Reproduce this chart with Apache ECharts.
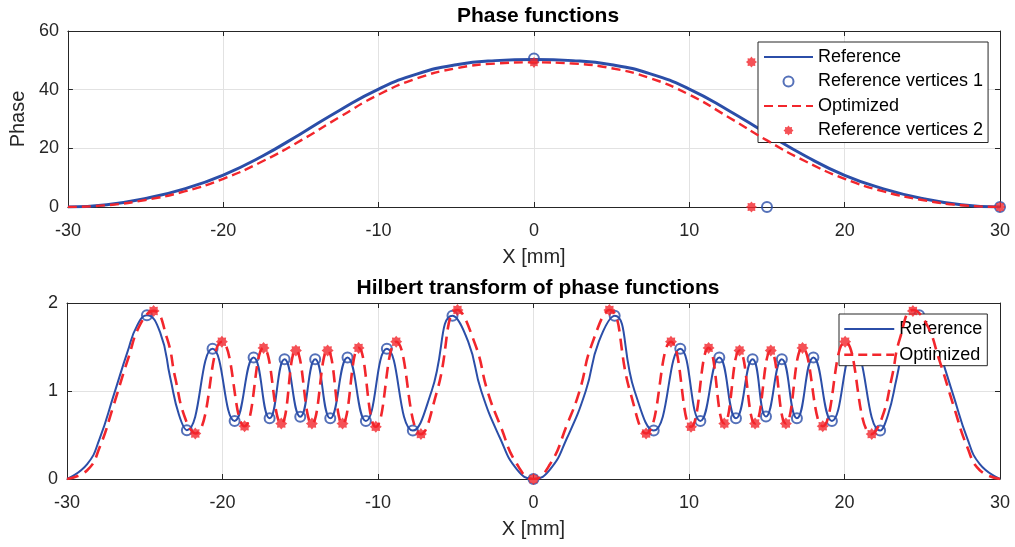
<!DOCTYPE html>
<html><head><meta charset="utf-8">
<script src="https://cdn.jsdelivr.net/npm/echarts@6/dist/echarts.min.js"></script>
<style>html,body{margin:0;padding:0;background:#fff}#c{width:1015px;height:547px}</style>
</head><body><div id="c"></div>
<script>
// ---------- data: top plot (Phase functions) ----------
const phaseX    = [-30, -27.5, -25, -22.5, -20, -17.5, -15, -12.5, -10, -7.5, -5, -2.5, 0, 2.5, 5, 7.5, 10, 12.5, 15, 17.5, 20, 22.5, 25, 27.5, 30];
const phaseRef  = [0, 0.8, 2.9, 6.2, 10.9, 17.3, 25.0, 33.0, 40.2, 45.4, 48.5, 49.9, 50.3, 49.9, 48.5, 45.4, 40.2, 33.0, 25.0, 17.3, 10.8, 6.2, 2.9, 0.8, 0];
const phaseOpt  = [0, 0.6, 2.4, 5.3, 9.6, 15.5, 22.7, 30.7, 38.3, 43.9, 47.3, 48.9, 49.3, 48.9, 47.3, 43.9, 38.3, 30.7, 22.7, 15.5, 9.6, 5.3, 2.4, 0.6, 0];
const vert1X = [0, 15, 30];
const vert1Y = [50.6, 0, 0];
const vert2X = [0, 14, 14, 30];
const vert2Y = [49.3, 49.4, 0, 0];

// ---------- data: bottom plot (Hilbert transform) ----------
const hRefX = [-30, -28.7, -27.9, -27.0, -26.1, -25.5, -24.86, -24.0, -23.36, -22.8, -22.29, -20.64, -19.22, -18.0, -16.97, -16.01, -15.0, -14.04, -13.07, -11.96, -10.78, -9.43, -7.76, -6.55, -5.21, -4.2, -3.36, -2.14, -1.07, 0,
               1.07, 2.14, 3.36, 4.2, 5.22, 6.5, 7.73, 9.44, 10.73, 11.95, 13.02, 14.09, 14.95, 15.97, 16.94, 18.0, 19.19, 20.6, 22.29, 22.8, 23.36, 24.0, 24.8, 25.5, 26.1, 27.0, 27.9, 28.7, 30];
const hRefY = [0, 0.17, 0.46, 0.95, 1.45, 1.74, 1.86, 1.66, 1.15, 0.73, 0.555, 1.48, 0.66, 1.38, 0.69, 1.36, 0.707, 1.36, 0.69, 1.38, 0.66, 1.48, 0.55, 1.0, 1.855, 1.56, 1.0, 0.46, 0.11, 0,
               0.11, 0.46, 1.0, 1.56, 1.855, 1.0, 0.55, 1.48, 0.66, 1.38, 0.69, 1.36, 0.71, 1.36, 0.69, 1.38, 0.66, 1.48, 0.55, 0.73, 1.15, 1.66, 1.86, 1.74, 1.45, 0.95, 0.46, 0.17, 0];
const hOptX = [-30, -28.7, -27.9, -27.0, -26.1, -25.25, -24.43, -23.57, -23.04, -22.4, -21.75, -20.04, -18.58, -17.36, -16.22, -15.28, -14.25, -13.24, -12.28, -11.25, -10.14, -8.83, -7.24, -6.2, -4.89, -3.75, -2.96, -2.14, -1.07, 0,
               1.07, 2.14, 2.96, 3.75, 4.88, 6.2, 7.24, 8.84, 10.13, 11.26, 12.27, 13.25, 14.25, 15.26, 16.23, 17.3, 18.6, 20.04, 21.75, 22.4, 23.04, 23.57, 24.4, 25.25, 26.1, 27.0, 27.9, 28.7, 30];
const hOptY = [0, 0.1, 0.36, 0.84, 1.35, 1.77, 1.91, 1.6, 1.15, 0.69, 0.517, 1.56, 0.60, 1.49, 0.63, 1.46, 0.63, 1.46, 0.63, 1.49, 0.593, 1.56, 0.51, 1.0, 1.92, 1.53, 1.0, 0.61, 0.17, 0,
               0.17, 0.61, 1.0, 1.53, 1.92, 1.0, 0.517, 1.56, 0.593, 1.49, 0.63, 1.46, 0.63, 1.46, 0.63, 1.49, 0.60, 1.56, 0.51, 0.69, 1.15, 1.6, 1.92, 1.77, 1.35, 0.84, 0.36, 0.1, 0];
const hRefMarkX = [-24.86, -22.29, -20.64, -19.22, -18.0, -16.97, -16.01, -15.0, -14.04, -13.07, -11.96, -10.78, -9.43, -7.76, -5.21, 0, 5.22, 7.73, 9.44, 10.73, 11.95, 13.02, 14.09, 14.95, 15.97, 16.94, 18.0, 19.19, 20.6, 22.29, 24.8];
const hRefMarkY = [1.86, 0.555, 1.48, 0.66, 1.38, 0.69, 1.36, 0.707, 1.36, 0.69, 1.38, 0.66, 1.48, 0.55, 1.855, 0, 1.855, 0.55, 1.48, 0.66, 1.38, 0.69, 1.36, 0.71, 1.36, 0.69, 1.38, 0.66, 1.48, 0.55, 1.86];
const hOptMarkX = [-24.43, -21.75, -20.04, -18.58, -17.36, -16.22, -15.28, -14.25, -13.24, -12.28, -11.25, -10.14, -8.83, -7.24, -4.89, 0, 4.88, 7.24, 8.84, 10.13, 11.26, 12.27, 13.25, 14.25, 15.26, 16.23, 17.3, 18.6, 20.04, 21.75, 24.4];
const hOptMarkY = [1.91, 0.517, 1.56, 0.60, 1.49, 0.63, 1.46, 0.63, 1.46, 0.63, 1.49, 0.593, 1.56, 0.51, 1.92, 0, 1.92, 0.517, 1.56, 0.593, 1.49, 0.63, 1.46, 0.63, 1.46, 0.63, 1.49, 0.60, 1.56, 0.51, 1.91];

// ---------- axes / labels ----------
const xRange = {min: -30, max: 30, interval: 10};
const phaseRange = {min: 0, max: 60, interval: 20};
const hilbertRange = {min: 0, max: 2, interval: 1};
const titles = ['Phase functions', 'Hilbert transform of phase functions'];
const xName = 'X [mm]';
const yNameTop = 'Phase';
const legendTop = ['Reference', 'Reference vertices 1', 'Optimized', 'Reference vertices 2'];
const legendBottom = ['Reference', 'Optimized'];

// ---------- styling ----------
const BLUE = '#2B4EA8', RED = '#F2262C', AX = '#262626', GRID = '#E2E2E2';
const FONT = '"Liberation Sans", Arial, Helvetica, sans-serif';
const SMOOTH = 0.5;
function zip(a, b) { return a.map((v, i) => [v, b[i]]); }
function starPath() {
  const pts = [];
  for (let k = 0; k < 16; k++) {
    const a = k * Math.PI / 8 - Math.PI / 2, r = (k % 2 === 0) ? 50 : 36;
    pts.push((50 + r * Math.cos(a)).toFixed(2) + ' ' + (50 + r * Math.sin(a)).toFixed(2));
  }
  return 'path://M' + pts.join(' L') + ' Z';
}
const STAR = starPath();

function xAxisPair(gi) {
  return [
    {type: 'value', gridIndex: gi, min: xRange.min, max: xRange.max, interval: xRange.interval,
     name: xName, nameLocation: 'middle', nameGap: 40,
     nameTextStyle: {fontSize: 20, color: AX, fontFamily: FONT},
     axisLine: {show: true, onZero: false, lineStyle: {color: AX, width: 1}},
     axisTick: {show: true, inside: true, length: 5, lineStyle: {color: AX}},
     axisLabel: {fontSize: 18, color: AX, fontFamily: FONT, margin: 15},
     splitLine: {show: true, lineStyle: {color: GRID, width: 1}}},
    {type: 'value', gridIndex: gi, position: 'top', min: xRange.min, max: xRange.max, interval: xRange.interval,
     axisLine: {show: true, onZero: false, lineStyle: {color: AX, width: 1}},
     axisTick: {show: true, inside: true, length: 5, lineStyle: {color: AX}},
     axisLabel: {show: false}, splitLine: {show: false}}
  ];
}
function yAxisPair(gi, rng, name) {
  return [
    {type: 'value', gridIndex: gi, min: rng.min, max: rng.max, interval: rng.interval,
     name: name || '', nameLocation: 'middle', nameGap: 38,
     nameTextStyle: {fontSize: 20, color: AX, fontFamily: FONT},
     axisLine: {show: true, onZero: false, lineStyle: {color: AX, width: 1}},
     axisTick: {show: true, inside: true, length: 5, lineStyle: {color: AX}},
     axisLabel: {fontSize: 18, color: AX, fontFamily: FONT, margin: 9},
     splitLine: {show: true, lineStyle: {color: GRID, width: 1}}},
    {type: 'value', gridIndex: gi, position: 'right', min: rng.min, max: rng.max, interval: rng.interval,
     axisLine: {show: true, onZero: false, lineStyle: {color: AX, width: 1}},
     axisTick: {show: true, inside: true, length: 5, lineStyle: {color: AX}},
     axisLabel: {show: false}, splitLine: {show: false}}
  ];
}

const legendText = {fontSize: 18, color: '#000', fontFamily: FONT, lineHeight: 18};
const HIDE_SYM = {opacity: 0};

const option = {
  backgroundColor: '#fff',
  animation: false,
  title: [
    {text: titles[0], left: 533, top: 1, textAlign: 'center',
     textStyle: {fontSize: 21, fontWeight: 'bold', color: '#000', fontFamily: FONT}},
    {text: titles[1], left: 533, top: 273, textAlign: 'center',
     textStyle: {fontSize: 21, fontWeight: 'bold', color: '#000', fontFamily: FONT}}
  ],
  grid: [
    {left: 67, top: 31, width: 933, height: 176},
    {left: 67, top: 303, width: 933, height: 176}
  ],
  xAxis: [...xAxisPair(0), ...xAxisPair(1)],
  yAxis: [...yAxisPair(0, phaseRange, yNameTop), ...yAxisPair(1, hilbertRange, '')],
  legend: [
    {data: [
       {name: legendTop[0], itemStyle: HIDE_SYM},
       {name: legendTop[1], itemStyle: {color: 'rgba(0,0,0,0)', borderColor: BLUE, borderWidth: 2}},
       {name: legendTop[2], itemStyle: HIDE_SYM},
       {name: legendTop[3], itemStyle: {color: RED}}],
     orient: 'vertical', left: 758, top: 42, itemWidth: 49, itemHeight: 10, itemGap: 6.5,
     padding: [6, 5, 3, 5], borderColor: AX, borderWidth: 1, backgroundColor: '#fff',
     textStyle: legendText, selectedMode: false},
    {data: [
       {name: legendBottom[0], lineStyle: {width: 2}, itemStyle: HIDE_SYM},
       {name: legendBottom[1], lineStyle: {width: 2.5}, itemStyle: HIDE_SYM}],
     orient: 'vertical', left: 839, top: 314, itemWidth: 50, itemHeight: 10, itemGap: 7.7,
     padding: [6, 5, 2, 4], borderColor: AX, borderWidth: 1, backgroundColor: '#fff',
     textStyle: legendText, selectedMode: false}
  ],
  series: [
    {name: 'Reference', type: 'line', xAxisIndex: 0, yAxisIndex: 0, data: zip(phaseX, phaseRef),
     smooth: SMOOTH, symbol: 'none', lineStyle: {color: BLUE, width: 3}, itemStyle: {color: BLUE}, z: 2},
    {name: 'Reference vertices 1', type: 'scatter', xAxisIndex: 0, yAxisIndex: 0, data: zip(vert1X, vert1Y),
     symbol: 'circle', symbolSize: 10, itemStyle: {color: 'rgba(0,0,0,0)', borderColor: BLUE, borderWidth: 2}, z: 3},
    {name: 'Optimized', type: 'line', xAxisIndex: 0, yAxisIndex: 0, data: zip(phaseX, phaseOpt),
     smooth: SMOOTH, symbol: 'none', lineStyle: {color: RED, width: 2.4, type: [9, 5]}, itemStyle: {color: RED}, z: 4},
    {name: 'Reference vertices 2', type: 'scatter', xAxisIndex: 0, yAxisIndex: 0, data: zip(vert2X, vert2Y),
     symbol: STAR, symbolSize: 11, itemStyle: {color: RED}, z: 5},

    {name: 'Reference', type: 'line', xAxisIndex: 2, yAxisIndex: 2, data: zip(hRefX, hRefY),
     smooth: SMOOTH, symbol: 'none', lineStyle: {color: BLUE, width: 2}, itemStyle: {color: BLUE}, z: 2},
    {name: 'hRefMarks', type: 'scatter', xAxisIndex: 2, yAxisIndex: 2, data: zip(hRefMarkX, hRefMarkY),
     symbol: 'circle', symbolSize: 10, itemStyle: {color: 'rgba(0,0,0,0)', borderColor: BLUE, borderWidth: 2}, z: 3},
    {name: 'Optimized', type: 'line', xAxisIndex: 2, yAxisIndex: 2, data: zip(hOptX, hOptY),
     smooth: SMOOTH, symbol: 'none', lineStyle: {color: RED, width: 2.6, type: [12, 7]}, itemStyle: {color: RED}, z: 4},
    {name: 'hOptMarks', type: 'scatter', xAxisIndex: 2, yAxisIndex: 2, data: zip(hOptMarkX, hOptMarkY),
     symbol: STAR, symbolSize: 12, itemStyle: {color: RED}, z: 5}
  ]
};
const chart = echarts.init(document.getElementById('c'), null, {renderer: 'canvas'});
chart.setOption(option);
</script>
</body></html>
